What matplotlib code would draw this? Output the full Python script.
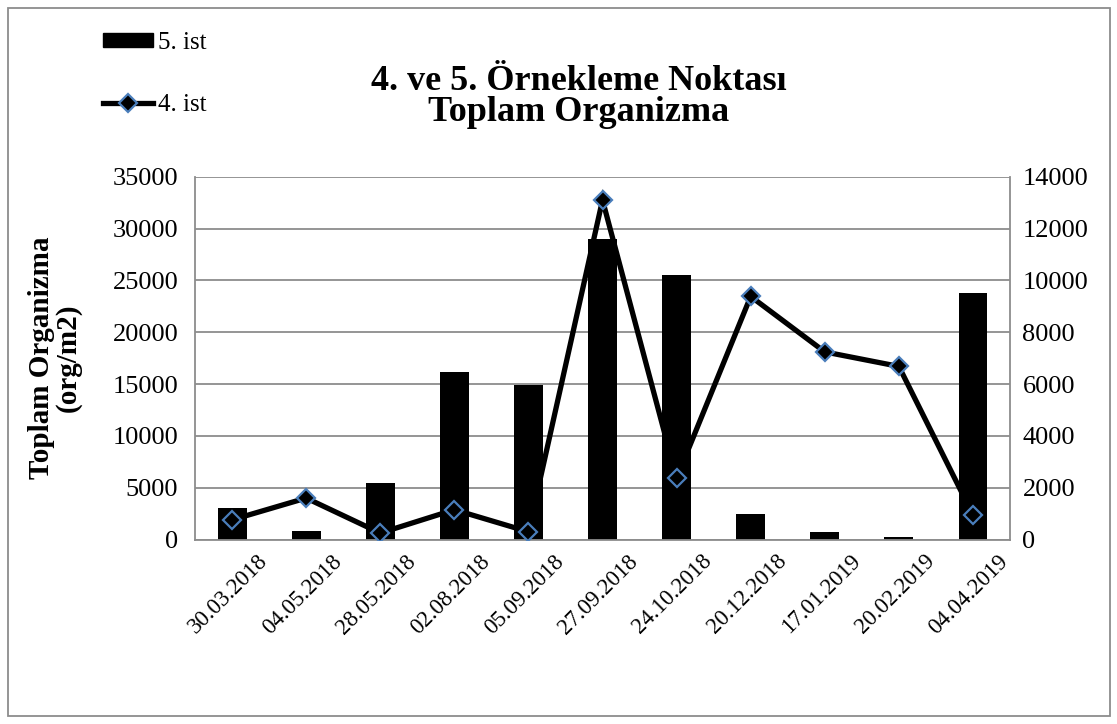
import matplotlib
matplotlib.use('Agg')
import matplotlib.pyplot as plt
import matplotlib.transforms as mtrans
import numpy as np
from matplotlib.patches import Rectangle
from matplotlib.lines import Line2D

plt.rcParams['font.family'] = ['Liberation Serif', 'DejaVu Serif']

# data
dates = ['30.03.2018', '04.05.2018', '28.05.2018', '02.08.2018', '05.09.2018',
         '27.09.2018', '24.10.2018', '20.12.2018', '17.01.2019', '20.02.2019',
         '04.04.2019']
ist5 = [3000, 850, 5500, 16200, 14900, 29000, 25500, 2500, 700, 230, 23800]
ist4 = [760, 1600, 250, 1150, 300, 13100, 2370, 9380, 7240, 6680, 950]

x = np.arange(len(dates))

fig = plt.figure(figsize=(11.17, 7.24), dpi=100)
fig.patch.set_facecolor('white')
pos = [0.1746, 0.2548, 0.7296, 0.5011]

# line (right axis) drawn lowest, bars above it, markers on top
ax2 = fig.add_axes(pos, zorder=0)
ax1 = fig.add_axes(pos, zorder=1, sharex=ax2)
ax3 = fig.add_axes(pos, zorder=2, sharex=ax2)
for a in (ax1, ax2, ax3):
    a.patch.set_visible(False)

ax2.set_ylim(0, 14000)
ax2.set_yticks(np.arange(0, 14001, 2000))
ax2.yaxis.tick_right()
ax2.grid(axis='y', color='#8c8c8c', lw=1.3)
ax2.set_axisbelow(True)
ax2.plot(x, ist4, color='black', lw=3.8, solid_joinstyle='miter')

ax1.bar(x, ist5, width=0.39, color='black')
ax1.set_ylim(0, 35000)
ax1.set_yticks(np.arange(0, 35001, 5000))
ax1.set_xlim(-0.5, len(dates) - 0.5)

ax3.plot(x, ist4, ls='none', marker='D', ms=9, mfc='black',
         mec='#4a7ebb', mew=1.6)
ax3.set_ylim(0, 14000)
ax3.set_yticks([])
ax3.tick_params(axis='x', length=0, labelbottom=False)
for s in ax3.spines.values():
    s.set_visible(False)

for a in (ax1, ax2):
    for s in a.spines.values():
        s.set_visible(False)
ax1.spines['left'].set_visible(True)
ax1.spines['bottom'].set_visible(True)
ax2.spines['right'].set_visible(True)
for sp in [ax1.spines['left'], ax1.spines['bottom'], ax2.spines['right']]:
    sp.set_color('#8c8c8c')
    sp.set_linewidth(1.3)

ax1.tick_params(axis='y', length=0, labelsize=19, pad=12)
ax2.tick_params(axis='y', length=0, labelsize=19, pad=9)
ax2.tick_params(axis='x', length=0, labelbottom=False)
ax1.set_xticks(x)
ax1.set_xticklabels(dates, rotation=45, ha='right', rotation_mode='anchor',
                    fontsize=16.5)
ax1.tick_params(axis='x', length=0, pad=8)
shift = mtrans.ScaledTranslation(25 / 100, 0, fig.dpi_scale_trans)
for lab in ax1.get_xticklabels():
    lab.set_transform(lab.get_transform() + shift)

ax1.set_ylabel('Toplam Organizma\n(org/m2)', fontsize=21, fontweight='bold',
               labelpad=22, linespacing=1.0)

fig.text(0.518, 0.866, '4. ve 5. Örnekleme Noktası\nToplam Organizma',
         ha='center', va='center', fontsize=26, fontweight='bold',
         linespacing=0.95)

handles = [Rectangle((0, 0), 1, 1, color='black'),
           Line2D([], [], color='black', lw=3.8, marker='D', ms=9,
                  mfc='black', mec='#4a7ebb', mew=1.6)]
fig.legend(handles, ['5. ist', '4. ist'], loc='upper left',
           bbox_to_anchor=(0.072, 0.987), frameon=False, fontsize=18,
           handlelength=2.0, handleheight=0.5, handletextpad=0.2,
           labelspacing=1.6)

fig.add_artist(Rectangle((8 / 1117, 8 / 724), 1102 / 1117, 708 / 724,
                         transform=fig.transFigure, fill=False,
                         edgecolor='#8c8c8c', lw=1.3))

fig.savefig('out.png', dpi=100)
